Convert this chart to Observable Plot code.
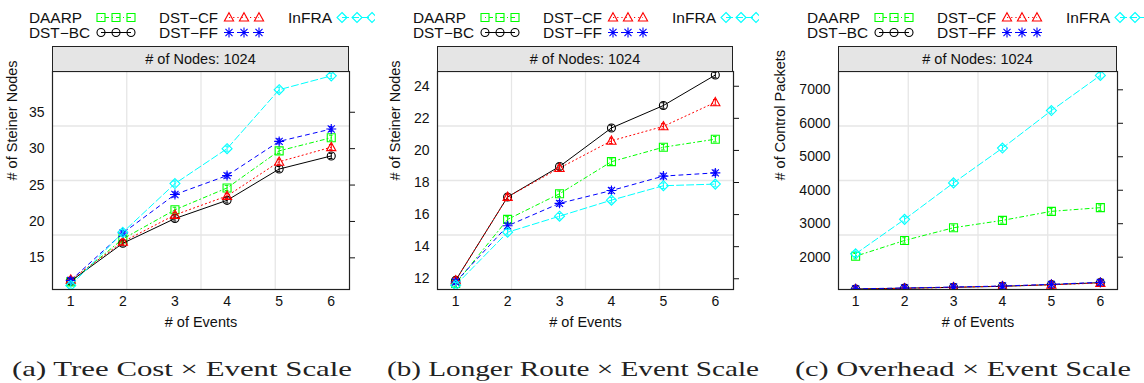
<!DOCTYPE html>
<html>
<head>
<meta charset="utf-8">
<script src="https://cdn.jsdelivr.net/npm/d3@7"></script>
<script src="https://cdn.jsdelivr.net/npm/@observablehq/plot@0.6"></script>
<style>
  body { margin: 0; background: #fff; }
  #page { position: relative; width: 1144px; height: 383px; overflow: hidden;
          font-family: "Liberation Sans", Arial, sans-serif; color: #111; }
  .fig { position: absolute; top: 0; height: 345px; overflow: hidden; }
  .fig svg { position: absolute; left: 0; top: 0; }
  .strip { position: absolute; box-sizing: border-box; height: 25px; background: #e5e5e5;
           border: 1px solid #222; border-bottom: none; font-size: 14.5px;
           text-align: center; line-height: 24px; color: #111; }
  #captions { position: absolute; left: 0; top: 345px; }
</style>
</head>
<body>
<div id="page"></div>
<script>
// ---- data -------------------------------------------------------------
const events = [1, 2, 3, 4, 5, 6];
const seriesNames = ["DAARP", "DST\u2212BC", "DST\u2212CF", "DST\u2212FF", "InFRA"];
const seriesColors = ["#00ff00", "#000000", "#ff0000", "#0000ff", "#00ffff"];
const seriesDashes = ["1,3,4,3", "none", "1.2,3", "4,4", "7,3"];

// (a) tree cost: # of Steiner nodes
const treeDaarp = [11.7, 17.6, 21.6, 24.6, 29.7, 31.5];
const treeBc    = [11.8, 17.0, 20.4, 22.9, 27.2, 29.0];
const treeCf    = [12.0, 17.2, 20.9, 23.5, 28.2, 30.2];
const treeFf    = [11.9, 18.4, 23.7, 26.3, 31.0, 32.7];
const treeInfra = [11.2, 18.5, 25.2, 30.0, 38.1, 40.0];
const treeTicks = [15, 20, 25, 30, 35];

// (b) longer route: # of Steiner nodes
const routeDaarp = [11.7, 15.7, 17.3, 19.3, 20.2, 20.7];
const routeBc    = [11.9, 17.1, 19.0, 21.4, 22.8, 24.7];
const routeCf    = [11.9, 17.1, 18.9, 20.6, 21.5, 23.0];
const routeFf    = [11.8, 15.3, 16.7, 17.5, 18.4, 18.6];
const routeInfra = [11.6, 14.9, 15.9, 16.9, 17.8, 17.9];
const routeTicks = [12, 14, 16, 18, 20, 22, 24];

// (c) overhead: # of control packets
const overDaarp = [2030, 2500, 2880, 3100, 3370, 3480];
const overBc    = [1050, 1075, 1100, 1130, 1180, 1240];
const overCf    = [1045, 1070, 1100, 1135, 1175, 1230];
const overFf    = [1055, 1080, 1110, 1140, 1190, 1250];
const overInfra = [2100, 3130, 4220, 5260, 6380, 7430];
const overTicks = [2000, 3000, 4000, 5000, 6000, 7000];

// ---- point symbols (open shapes, radius derived from the size) --------
const rad = (size) => Math.sqrt(size / Math.PI);
const symSquare = { draw(c, s) { const r = rad(s); c.moveTo(-r, -r); c.lineTo(r, -r); c.lineTo(r, r); c.lineTo(-r, r); c.closePath(); } };
const symCircle = { draw(c, s) { const r = rad(s); c.moveTo(r, 0); c.arc(0, 0, r, 0, 2 * Math.PI); } };
const symTriangle = { draw(c, s) { const r = rad(s); c.moveTo(0, -r * 1.05); c.lineTo(r * 1.0, r * 0.75); c.lineTo(-r * 1.0, r * 0.75); c.closePath(); } };
const symAsterisk = { draw(c, s) { const r = rad(s), q = r * Math.SQRT1_2;
  c.moveTo(-r, 0); c.lineTo(r, 0); c.moveTo(0, -r); c.lineTo(0, r);
  c.moveTo(-q, -q); c.lineTo(q, q); c.moveTo(-q, q); c.lineTo(q, -q); } };
const symDiamond = { draw(c, s) { const r = rad(s); c.moveTo(0, -r); c.lineTo(r, 0); c.lineTo(0, r); c.lineTo(-r, 0); c.closePath(); } };
const seriesSymbols = [symSquare, symCircle, symTriangle, symAsterisk, symDiamond];
const seriesRadius = [4, 4, 4.6, 5, 5];

const xDomain = [0.65, 6.35];
const fontFamily = "'Liberation Sans', Arial, sans-serif";

function figure(cfg) {
  const page = document.getElementById("page");
  const fig = document.createElement("div");
  fig.className = "fig";
  fig.style.left = cfg.left + "px";
  fig.style.width = cfg.width + "px";
  page.appendChild(fig);

  const rows = cfg.values.map((vals) => events.map((e, j) => ({ x: e, y: vals[j] })));
  const quarters = [1, 2, 3];
  const gridX = quarters.map((k) => xDomain[0] + k * (xDomain[1] - xDomain[0]) / 4);
  const gridY = quarters.map((k) => cfg.yDomain[0] + k * (cfg.yDomain[1] - cfg.yDomain[0]) / 4);
  const capW = 0.035;

  const marks = [
    Plot.ruleX(gridX, { stroke: "#e6e6e6", strokeWidth: 1.3 }),
    Plot.ruleY(gridY, { stroke: "#e6e6e6", strokeWidth: 1.3 })
  ];
  rows.forEach((data, i) => {
    const stroke = seriesColors[i];
    marks.push(
      Plot.line(data, { x: "x", y: "y", stroke, strokeWidth: 1, strokeDasharray: seriesDashes[i], clip: true }),
      Plot.ruleX(data, { x: "x", y1: (d) => d.y - cfg.ci, y2: (d) => d.y + cfg.ci, stroke, strokeWidth: 1, clip: true }),
      Plot.ruleY(data, { y: (d) => d.y - cfg.ci, x1: (d) => d.x - capW, x2: (d) => d.x + capW, stroke, strokeWidth: 1, clip: true }),
      Plot.ruleY(data, { y: (d) => d.y + cfg.ci, x1: (d) => d.x - capW, x2: (d) => d.x + capW, stroke, strokeWidth: 1, clip: true }),
      Plot.dot(data, { x: "x", y: "y", stroke, fill: "none", strokeWidth: 1.1, symbol: seriesSymbols[i], r: seriesRadius[i], clip: true })
    );
  });
  marks.push(
    Plot.frame({ stroke: "#222", strokeWidth: 1.2 }),
    Plot.axisX({ ticks: events, tickSize: 0, tickPadding: 7, label: null, fontSize: 14, tickFormat: (d) => String(d) }),
    Plot.axisY({ anchor: "left", ticks: cfg.yTicks, tickSize: 0, tickPadding: 8, label: null, fontSize: 14, tickFormat: (d) => String(d) }),
    Plot.axisY({ anchor: "right", ticks: cfg.yTicks, tickSize: 5, label: null, tickFormat: () => "" }),
    Plot.text([cfg.ylabel], { frameAnchor: "left", dx: cfg.ylabelDx, rotate: -90, fontSize: 14.5, fill: "#111" }),
    Plot.text(["# of Events"], { frameAnchor: "bottom", dy: 37, fontSize: 14.5, fill: "#111" })
  );

  const chart = Plot.plot({
    width: cfg.width,
    height: 340,
    marginTop: 71,
    marginBottom: 51,
    marginLeft: cfg.marginLeft,
    marginRight: cfg.marginRight,
    x: { domain: xDomain },
    y: { domain: cfg.yDomain },
    style: { fontFamily, fontSize: "14px", color: "#111", background: "transparent" },
    marks
  });
  fig.appendChild(chart);

  // panel strip
  const strip = document.createElement("div");
  strip.className = "strip";
  strip.style.left = cfg.marginLeft + "px";
  strip.style.top = "46px";
  strip.style.width = (cfg.width - cfg.marginLeft - cfg.marginRight) + "px";
  strip.textContent = "# of Nodes: 1024";
  fig.appendChild(strip);

  // key above the panel
  const key = d3.create("svg").attr("width", cfg.width).attr("height", 44)
    .style("font-family", fontFamily).style("font-size", "14px");
  const col = [0, 0, 1, 1, 2], row = [0, 1, 0, 1, 0];
  const textX = [0, 130, 259], symX = [68, 196, 309], rowY = [17.5, 32.5];
  seriesNames.forEach((name, i) => {
    const L = cfg.keyX, y = rowY[row[i]];
    key.append("text").attr("x", L + textX[col[i]]).attr("y", y + 5).attr("fill", "#111")
      .attr("textLength", [53, 61, 59, 59, 44][i]).attr("lengthAdjust", "spacingAndGlyphs").text(name);
    const s0 = L + symX[col[i]];
    const xs = [s0 + 4, s0 + 19, s0 + 34];
    key.append("line").attr("x1", xs[0]).attr("x2", xs[2]).attr("y1", y).attr("y2", y)
      .attr("stroke", seriesColors[i]).attr("stroke-dasharray", seriesDashes[i]).attr("stroke-width", 1);
    const r = seriesRadius[i];
    const path = d3.symbol(seriesSymbols[i], r * r * Math.PI)();
    xs.forEach((x) => key.append("path").attr("d", path).attr("transform", `translate(${x},${y})`)
      .attr("fill", "none").attr("stroke", seriesColors[i]).attr("stroke-width", 1.1));
  });
  fig.appendChild(key.node());
}

figure({ left: 0, width: 375, marginLeft: 52, marginRight: 26, yDomain: [10.65, 40.6], yTicks: treeTicks,
         ylabel: "# of Steiner Nodes", ylabelDx: -40, ci: 0.35, keyX: 29,
         values: [treeDaarp, treeBc, treeCf, treeFf, treeInfra] });
figure({ left: 380, width: 379, marginLeft: 57, marginRight: 26, yDomain: [11.33, 24.92], yTicks: routeTicks,
         ylabel: "# of Steiner Nodes", ylabelDx: -42, ci: 0.17, keyX: 33,
         values: [routeDaarp, routeBc, routeCf, routeFf, routeInfra] });
figure({ left: 760, width: 384, marginLeft: 78, marginRight: 27, yDomain: [1035, 7547], yTicks: overTicks,
         ylabel: "# of Control Packets", ylabelDx: -58, ci: 80, keyX: 47,
         values: [overDaarp, overBc, overCf, overFf, overInfra] });

// sub-figure captions
const captions = [
  { text: "(a) Tree Cost \u00d7 Event Scale", x: 12, w: 340 },
  { text: "(b) Longer Route \u00d7 Event Scale", x: 387, w: 372 },
  { text: "(c) Overhead \u00d7 Event Scale", x: 795, w: 336 }
];
const cap = d3.create("svg").attr("id", "captions").attr("width", 1144).attr("height", 38)
  .style("font-family", "'Liberation Serif', 'DejaVu Serif', serif").style("font-size", "22px");
captions.forEach((c) => cap.append("text").attr("x", c.x).attr("y", 31).attr("fill", "#222")
  .attr("textLength", c.w).attr("lengthAdjust", "spacingAndGlyphs").text(c.text));
document.getElementById("page").appendChild(cap.node());
</script>
</body>
</html>
